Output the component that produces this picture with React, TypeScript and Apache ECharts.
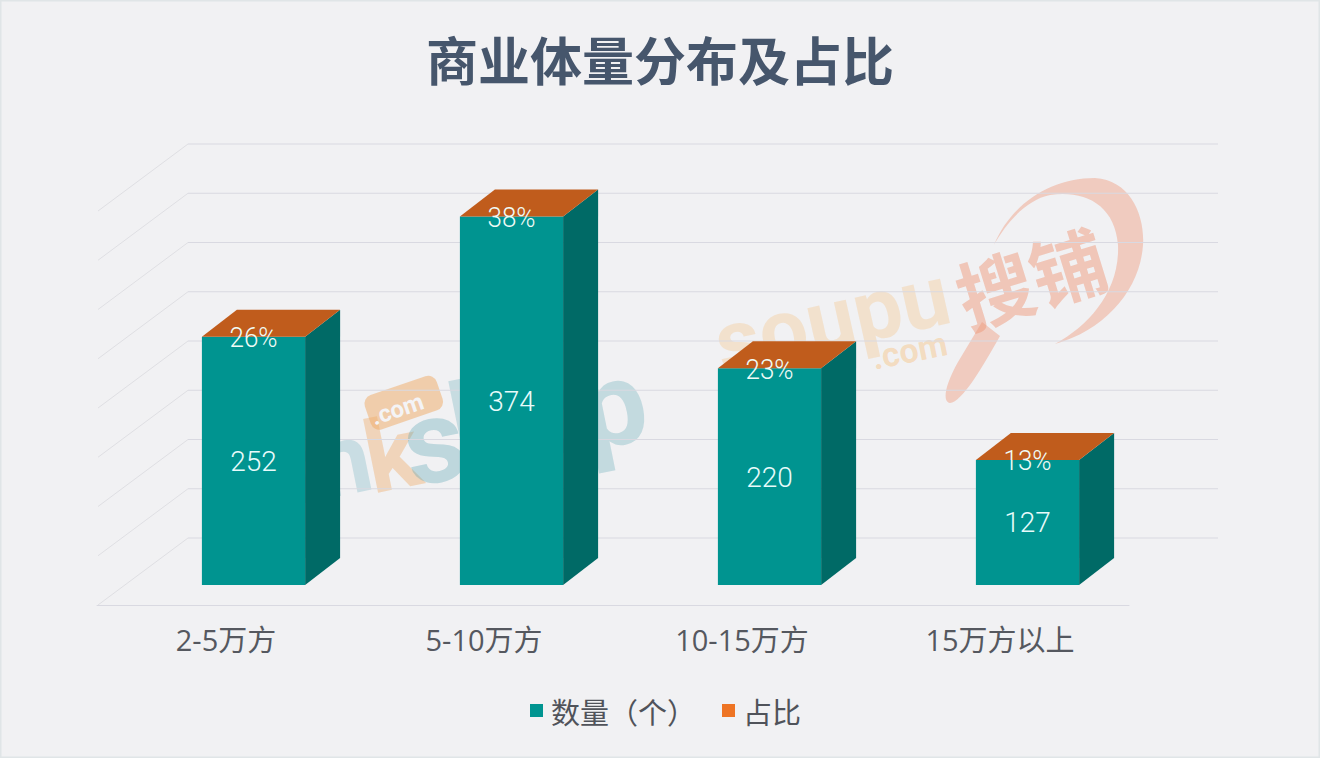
import React, { useEffect, useRef } from "react";
import * as echarts from "echarts";

const categories = ["2-5万方", "5-10万方", "10-15万方", "15万方以上"];
const counts = [252, 374, 220, 127];
const shares = [26, 38, 23, 13];
const wallTicks = [0, 50, 100, 150, 200, 250, 300, 350, 400];
const titleText = "商业体量分布及占比";
const countName = "数量（个）";
const shareName = "占比";

const FONT = "Roboto, 'Noto Sans CJK SC', sans-serif";
const AXISFONT = "'Open Sans', 'Noto Sans CJK SC', sans-serif";
const CJK = "'Noto Sans CJK SC', sans-serif";

echarts.graphic.registerShape(
  "soupuSwoosh",
  echarts.graphic.extendPath(
    "M 994 245 C 1010 205 1050 178 1095 178 C 1130 180 1145 215 1143 245 C 1140 290 1105 330 1055 344 C 1090 325 1120 290 1118 245 C 1115 205 1085 190 1050 195 C 1025 200 1005 225 994 245 Z M 982 322 L 1000 336 C 982 368 962 402 950 403 C 942 402 945 385 958 362 Z",
    {}
  )
);

const wallItem = (_p: any, api: any) => {
  const [x0, y] = api.coord([0, api.value(0)]);
  const left = x0 - api.size([1, 0])[0] / 2;
  return {
    type: "group",
    children: [
      {
        type: "polyline",
        shape: { points: [[left + 1, y], [left + 91, y - 67]] },
        style: { stroke: "#dfdfe3", lineWidth: 1, fill: "none" },
      },
      {
        type: "polyline",
        shape: { points: [[left + 91, y - 67], [1218, y - 67]] },
        style: { stroke: "#d9d9e1", lineWidth: 1, fill: "none" },
      },
    ],
  };
};

const barItem = (_p: any, api: any) => {
  const i = api.value(0);
  const [cx, y0] = api.coord([i, 0]);
  const [, y1] = api.coord([i, api.value(1)]);
  const w = api.size([1, 0])[0] * 0.4;
  const l = cx + 27.5 - w / 2;
  const r = l + w;
  const bottom = y0 - 20;
  const top = y1 - 20;
  return {
    type: "group",
    children: [
      {
        type: "rect",
        shape: { x: l, y: top, width: w, height: bottom - top },
        style: { fill: "#009490" },
      },
      {
        type: "polygon",
        shape: { points: [[r, top], [r + 35, top - 27], [r + 35, bottom - 27], [r, bottom]] },
        style: { fill: "#006a66" },
      },
      {
        type: "text",
        style: {
          text: String(api.value(1)),
          x: l + w / 2,
          y: (top + bottom) / 2 + 0.5,
          align: "center",
          verticalAlign: "middle",
          fill: "#e8fbfb",
          fontSize: 28,
          fontWeight: 300,
          fontFamily: FONT,
        },
      },
    ],
  };
};

const topItem = (_p: any, api: any) => {
  const i = api.value(0);
  const [cx] = api.coord([i, 0]);
  const [, y1] = api.coord([i, counts[i]]);
  const w = api.size([1, 0])[0] * 0.4;
  const l = cx + 27.5 - w / 2;
  const r = l + w;
  const top = y1 - 20;
  return {
    type: "group",
    children: [
      {
        type: "polygon",
        shape: { points: [[l, top], [l + 35, top - 27], [r + 35, top - 27], [r, top]] },
        style: { fill: "#c05c1c" },
      },
      {
        type: "text",
        x: l + w / 2,
        y: top + 1,
        scaleX: 0.93,
        style: {
          text: api.value(1) + "%",
          x: 0,
          y: 0,
          align: "center",
          verticalAlign: "middle",
          fill: "#f0fbf6",
          fontSize: 28,
          fontWeight: 300,
          fontFamily: FONT,
        },
      },
    ],
  };
};

const wmText = (text: string, x: number, y: number, size: number, rotation: number, fill: string, family = FONT) => ({
  type: "text",
  x,
  y,
  rotation,
  z: 0,
  silent: true,
  style: {
    text,
    x: 0,
    y: 0,
    fill,
    fontSize: size,
    fontWeight: 700,
    fontFamily: family,
    align: "left",
    verticalAlign: "middle",
  },
});

export default function App() {
  const ref = useRef<HTMLDivElement>(null);
  useEffect(() => {
    document.body.style.margin = "0";
    const chart = echarts.init(ref.current!, undefined, { renderer: "svg" });
    chart.setOption({
      animation: false,
      backgroundColor: "#f1f1f3",
      title: {
        text: titleText,
        left: "center",
        top: 27,
        textStyle: { fontSize: 52, fontWeight: "bold", color: "#46566c", fontFamily: CJK },
      },
      legend: {
        data: [countName, shareName],
        left: 525,
        top: 691,
        icon: "rect",
        itemWidth: 13,
        itemHeight: 13,
        itemGap: 26,
        textStyle: { fontSize: 29, color: "#50535a", fontFamily: CJK, padding: [0, 0, 0, 3] },
      },
      grid: { left: 97, top: 211, width: 1032, height: 394 },
      xAxis: {
        type: "category",
        data: categories,
        axisLine: { show: true, lineStyle: { color: "#d9d9e1", width: 1 } },
        axisTick: { show: false },
        axisLabel: { fontSize: 29, color: "#55585f", fontFamily: AXISFONT, margin: 20 },
      },
      yAxis: {
        type: "value",
        min: 0,
        max: 400,
        interval: 50,
        show: false,
        splitLine: { show: false },
      },
      graphic: [
        {
          type: "soupuSwoosh",
          x: 0,
          y: 0,
          z: 0,
          silent: true,
          style: { fill: "rgba(238,150,120,0.42)" },
        },
        wmText("soupu", 716, 345, 86, 0.22, "rgba(246,190,120,0.3)"),
        wmText(".com", 872, 358, 34, 0.2, "rgba(246,190,120,0.42)"),
        wmText("搜铺", 958, 298, 76, 0.3, "rgba(238,150,120,0.48)", CJK),
        wmText("m", 285, 472, 100, 0.2, "rgba(90,165,180,0.26)"),
        wmText("k", 366, 460, 100, 0.2, "rgba(240,170,100,0.4)"),
        wmText("s", 404, 448, 118, 0.2, "rgba(90,165,180,0.34)"),
        wmText("h", 452, 430, 118, 0.2, "rgba(90,165,180,0.28)"),
        wmText("o", 520, 420, 118, 0.2, "rgba(90,165,180,0.28)"),
        wmText("p", 580, 412, 118, 0.2, "rgba(90,165,180,0.3)"),
        {
          type: "rect",
          x: 362,
          y: 398,
          rotation: 0.33,
          z: 0,
          silent: true,
          shape: { x: 0, y: 0, width: 76, height: 36, r: 9 },
          style: { fill: "rgba(240,170,100,0.5)" },
        },
        wmText(".com", 372, 418, 24, 0.33, "#f4f4f6"),
        {
          type: "rect",
          x: 0.5,
          y: 0.5,
          z: 60,
          silent: true,
          shape: { x: 0, y: 0, width: 1319, height: 757 },
          style: { fill: "none", stroke: "#e0e5e7", lineWidth: 2 },
        },
      ],
      series: [
        {
          type: "custom",
          name: "wall",
          z: 1,
          clip: false,
          silent: true,
          renderItem: wallItem,
          encode: { y: 0 },
          data: wallTicks.map((v) => [v]),
        },
        {
          type: "custom",
          name: countName,
          z: 3,
          clip: false,
          itemStyle: { color: "#009490" },
          renderItem: barItem,
          encode: { x: 0, y: 1 },
          data: counts.map((v, i) => [i, v]),
        },
        {
          type: "custom",
          name: shareName,
          z: 4,
          clip: false,
          itemStyle: { color: "#ee7424" },
          renderItem: topItem,
          encode: { x: 0, y: 1 },
          data: shares.map((v, i) => [i, v]),
        },
      ],
    });
    return () => chart.dispose();
  }, []);
  return <div ref={ref} style={{ width: 1320, height: 758 }} />;
}
